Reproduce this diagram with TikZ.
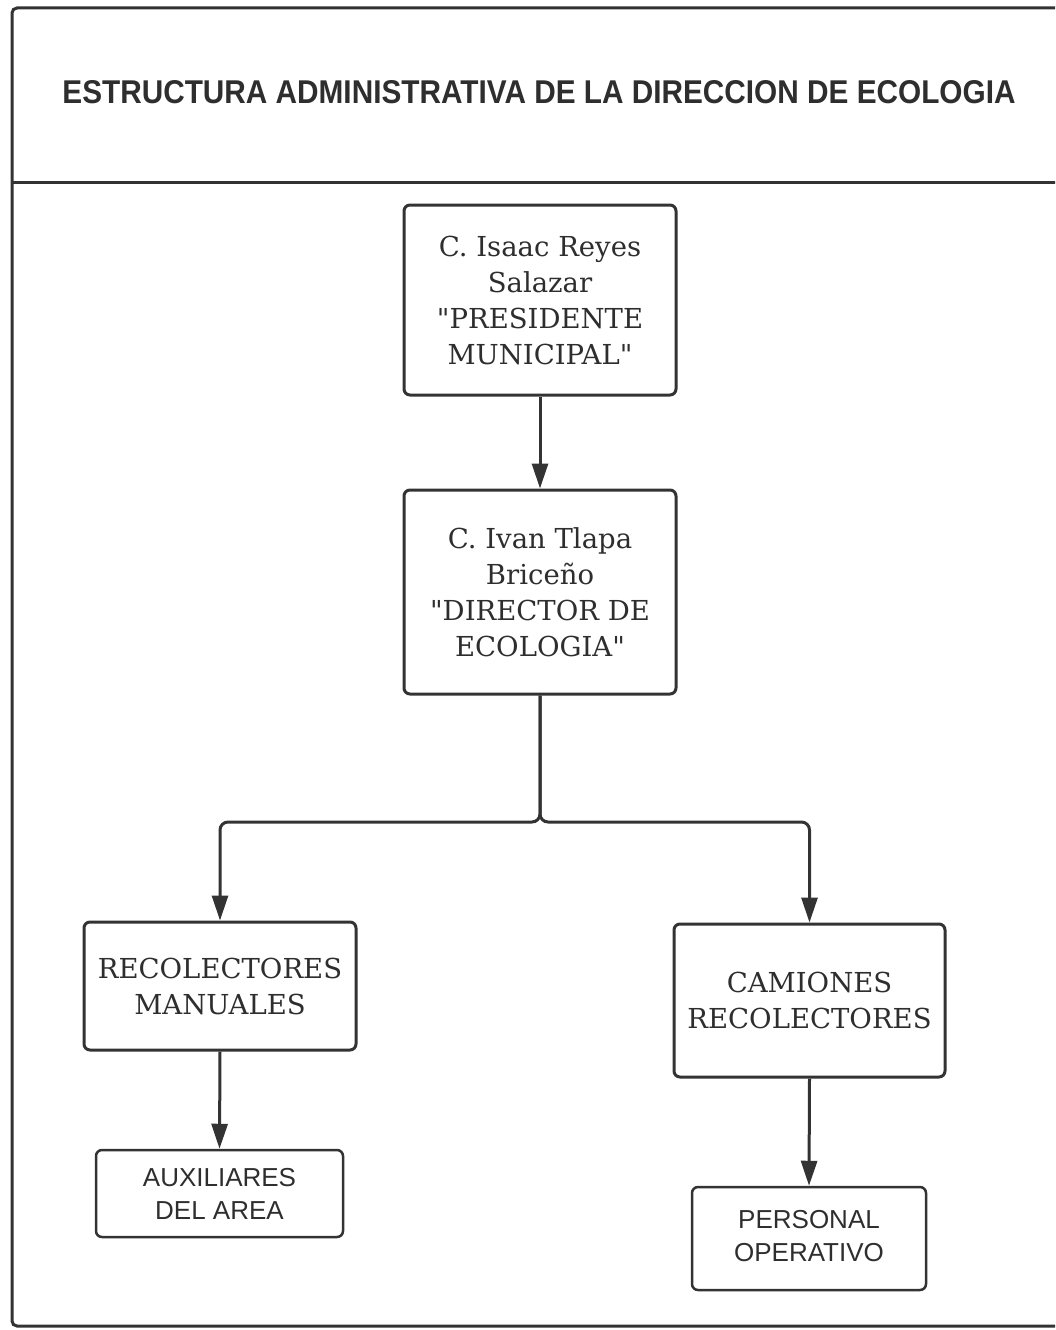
\documentclass[tikz,border=0pt]{standalone}
\usepackage{fontspec}
\setmainfont{DejaVu Serif}[Ligatures=TeXOff]
\newfontfamily\sansf{Liberation Sans}
\usetikzlibrary{arrows.meta}
\definecolor{ink}{HTML}{333333}
\definecolor{txt}{HTML}{2E2E2E}
\tikzset{
  serifbox/.style={draw=ink, line width=3pt, rounded corners=6pt, align=center, text=txt,
    font=\fontsize{27.5}{36}\selectfont, inner sep=0pt},
  sansbox/.style={draw=ink, line width=2.5pt, rounded corners=6pt, align=center, text=txt,
    font=\sansf\fontsize{26}{33}\selectfont, inner sep=0pt},
  conn/.style={draw=ink, line width=3pt, -{Triangle[length=25pt,width=16pt]}},
}
\begin{document}
\begin{tikzpicture}[x=1pt,y=-1pt]
\useasboundingbox (0,0) rectangle (1055,1330);
\clip (0,0) rectangle (1055,1330);
% outer frame and header
\draw[ink, line width=3pt, rounded corners=5pt] (12,8) rectangle (1080,1326);
\draw[ink, line width=3pt] (12,182) -- (1080,182);
\node[text=txt, inner sep=0pt] (title) at (539,92)
  {\resizebox{953pt}{23pt}{\sansf\bfseries ESTRUCTURA ADMINISTRATIVA DE LA DIRECCION DE ECOLOGIA}};
% boxes
\node[serifbox, minimum width=272pt, minimum height=190pt] (pres) at (540,300)
  {C. Isaac Reyes\\Salazar\\"PRESIDENTE\\MUNICIPAL"};
\node[serifbox, minimum width=272pt, minimum height=204pt] (dir) at (540,592)
  {C. Ivan Tlapa\\Briceño\\"DIRECTOR DE\\ECOLOGIA"};
\node[serifbox, minimum width=272pt, minimum height=128pt] (rec) at (220,986)
  {RECOLECTORES\\MANUALES};
\node[serifbox, minimum width=271pt, minimum height=153pt] (cam) at (809.5,1000.5)
  {CAMIONES\\RECOLECTORES};
\node[sansbox, minimum width=247pt, minimum height=87pt] (aux) at (219.5,1193.5)
  {AUXILIARES\\DEL AREA};
\node[sansbox, minimum width=234pt, minimum height=103pt] (per) at (809,1238.5)
  {\raisebox{3pt}{\begin{tabular}{@{}c@{}}PERSONAL\\OPERATIVO\end{tabular}}};
% connectors
\coordinate (split) at (540,822);
\draw[conn] (pres.south) -- (dir.north);
\draw[conn, rounded corners=8pt] (dir.south) -- (split) -| (rec.north);
\draw[conn, rounded corners=8pt] (dir.south) -- (split) -| (cam.north);
\draw[conn] (rec.south) -- (aux.north);
\draw[conn] (cam.south) -- (per.north);
\end{tikzpicture}
\end{document}
